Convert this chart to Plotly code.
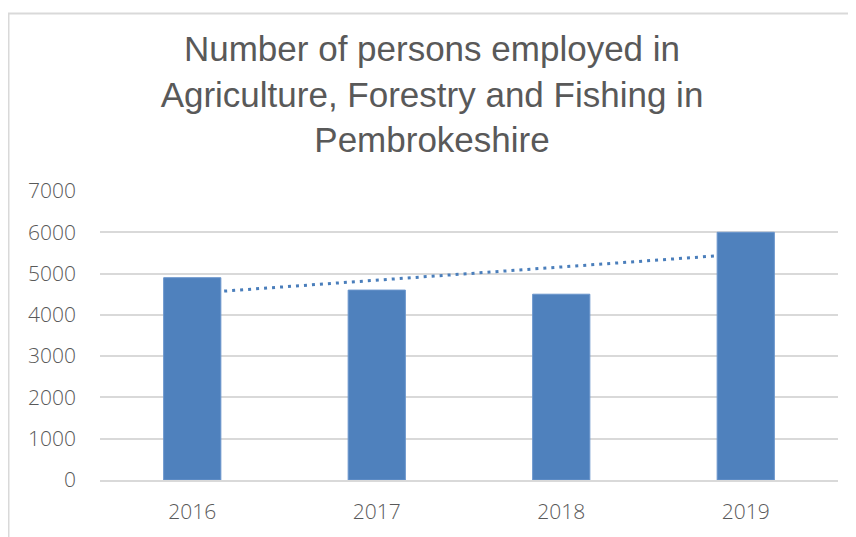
import numpy as np
import plotly.graph_objects as go

years = ["2016", "2017", "2018", "2019"]
employed = [4900, 4600, 4500, 6000]
y_ticks = [0, 1000, 2000, 3000, 4000, 5000, 6000, 7000]

title_text = "Number of persons employed in<br>Agriculture, Forestry and Fishing in<br>Pembrokeshire"

# linear trendline fitted to the data
xi = np.arange(len(years))
slope, intercept = np.polyfit(xi, employed, 1)
trend = list(slope * xi + intercept)

BAR = "#4f81bd"
GRID = "#d9d9d9"
TXT = "#595959"

fig = go.Figure()
fig.add_trace(go.Scatter(
    x=years, y=trend, mode="lines",
    line=dict(color="#4a7ebb", width=3, dash="3px,5px"),
    showlegend=False, hoverinfo="skip",
))
fig.add_trace(go.Bar(
    x=years, y=employed, xaxis="x2", yaxis="y2",
    marker=dict(color=BAR, line=dict(color="#6a95cc", width=1)),
    width=0.31, showlegend=False,
))

# page has an 8px body margin, so the figure is sized to fit inside it
W, H = 848, 529
L, R, T, B = 92, 18, 183, 49
pw, ph = W - L - R, H - T - B

def px_x(x):
    return (x - L) / pw

def px_y(y):
    return (H - B - y) / ph

TICKFONT = dict(family="Open Sans", size=21, color=TXT, weight=300)

# chart-area frame: only its left and top edges are in view
frame_path = "M {x0},{y0} L {x0},{y1} L {x1},{y1}".format(
    x0=px_x(0.5), y0=px_y(H + 20), x1=px_x(W + 10), y1=px_y(0.5)
)

fig.update_layout(
    width=W, height=H,
    margin=dict(l=L, r=R, t=T, b=B),
    paper_bgcolor="white", plot_bgcolor="white",
    title=dict(
        text=title_text, x=0.5, xref="container", xanchor="center",
        y=1 - 53 / H, yref="container", yanchor="top",
        font=dict(family="Liberation Sans, Arial", size=35, color=TXT),
    ),
    xaxis=dict(
        type="category", categoryorder="array", categoryarray=years,
        range=[-0.5, 3.5], showgrid=False, showline=True,
        linecolor=GRID, linewidth=2, ticks="",
        tickfont=TICKFONT, ticklabelstandoff=12, zeroline=False,
    ),
    yaxis=dict(
        range=[0, 7000], tickvals=y_ticks, showgrid=True,
        gridcolor=GRID, gridwidth=2, zeroline=False, showline=False,
        tickfont=TICKFONT, ticklabelstandoff=23,
    ),
    xaxis2=dict(
        type="category", categoryorder="array", categoryarray=years,
        range=[-0.5, 3.5], overlaying="x", visible=False,
    ),
    yaxis2=dict(range=[0, 7000], overlaying="y", visible=False),
    shapes=[dict(
        type="path", xref="paper", yref="paper", path=frame_path,
        line=dict(color=GRID, width=2), layer="below",
    )],
)

fig.write_html("out.html")
